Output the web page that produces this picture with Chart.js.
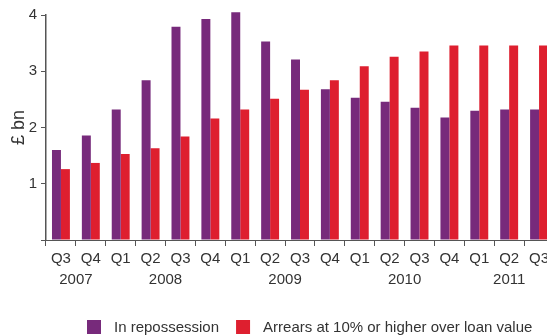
<!DOCTYPE html>
<html>
<head>
<meta charset="utf-8">
<script src="https://cdn.jsdelivr.net/npm/chart.js@4"></script>
<style>
  html, body { margin: 0; padding: 0; background: #ffffff; overflow: hidden; }
  #wrap { width: 556px; height: 336px; position: relative; }
</style>
</head>
<body>
<div id="wrap"><canvas id="c"></canvas></div>
<script>
// ---- data ----
const quarters = ['Q3','Q4','Q1','Q2','Q3','Q4','Q1','Q2','Q3','Q4','Q1','Q2','Q3','Q4','Q1','Q2','Q3'];
const years    = ['2007','2007','2008','2008','2008','2008','2009','2009','2009','2009','2010','2010','2010','2010','2011','2011','2011'];
const repossession = [1.60, 1.86, 2.32, 2.84, 3.79, 3.93, 4.05, 3.53, 3.21, 2.68, 2.53, 2.46, 2.35, 2.18, 2.30, 2.32, 2.32];
const arrears      = [1.26, 1.37, 1.53, 1.63, 1.84, 2.16, 2.32, 2.51, 2.67, 2.84, 3.09, 3.26, 3.35, 3.46, 3.46, 3.46, 3.46];
const seriesNames  = ['In repossession', 'Arrears at 10% or higher over loan value'];
const yTicks = [0, 1, 2, 3, 4];

const FONT = "'Liberation Sans', Arial, sans-serif";
const TXT = '#333333';
const AXIS = '#555555';
const PURPLE = '#772a7b';
const RED = '#de1f2f';

const yearLabels = {
  id: 'yearLabels',
  afterDraw(chart) {
    const ctx = chart.ctx, xs = chart.scales.x;
    const uniq = [...new Set(years)];
    ctx.save();
    ctx.font = '15px ' + FONT;
    ctx.fillStyle = TXT;
    ctx.textAlign = 'center';
    ctx.textBaseline = 'middle';
    uniq.forEach(y => {
      const first = years.indexOf(y), last = years.lastIndexOf(y);
      const x = (xs.getPixelForValue(first) + xs.getPixelForValue(last)) / 2;
      ctx.fillText(y, x, chart.chartArea.bottom + 40);
    });
    ctx.restore();
  }
};

const customLegend = {
  id: 'customLegend',
  afterDraw(chart) {
    const ctx = chart.ctx;
    ctx.save();
    ctx.font = '15px ' + FONT;
    ctx.textBaseline = 'middle';
    let x = 87;
    const yc = 327;
    chart.data.datasets.forEach(ds => {
      ctx.fillStyle = ds.backgroundColor;
      ctx.fillRect(x, yc - 7, 14, 14);
      x += 14 + 13;
      ctx.fillStyle = TXT;
      ctx.textAlign = 'left';
      ctx.fillText(ds.label, x, yc + 1);
      x += ctx.measureText(ds.label).width + 17;
    });
    ctx.restore();
  }
};

new Chart(document.getElementById('c'), {
  type: 'bar',
  data: {
    labels: quarters,
    datasets: [
      { label: seriesNames[0], data: repossession, backgroundColor: PURPLE, clip: false },
      { label: seriesNames[1], data: arrears, backgroundColor: RED, clip: false }
    ]
  },
  options: {
    responsive: true,
    maintainAspectRatio: false,
    animation: false,
    layout: { padding: { top: 15, right: 2, bottom: 64, left: 0 } },
    datasets: { bar: { barPercentage: 1, categoryPercentage: 0.6 } },
    plugins: { legend: { display: false }, tooltip: { enabled: false } },
    scales: {
      x: {
        grid: { display: true, drawOnChartArea: false, drawTicks: true, tickLength: 6, offset: true, color: AXIS, lineWidth: 1 },
        border: { display: true, color: AXIS, width: 1 },
        ticks: { color: TXT, font: { family: FONT, size: 15 }, padding: 4, maxRotation: 0, autoSkip: false }
      },
      y: {
        min: 0, max: 4,
        afterBuildTicks(scale) { scale.ticks = yTicks.map(v => ({ value: v })); },
        afterFit(scale) { scale.width = 46; },
        grid: { display: true, drawOnChartArea: false, drawTicks: true, tickLength: 5, color: AXIS, lineWidth: 1 },
        border: { display: true, color: AXIS, width: 1.5 },
        ticks: { color: TXT, font: { family: FONT, size: 15 }, padding: 4, callback: v => v === 0 ? '' : v },
        title: { display: true, text: '£ bn', color: TXT, font: { family: FONT, size: 18 }, padding: { top: 8, bottom: 0 } }
      }
    }
  },
  plugins: [yearLabels, customLegend]
});
</script>
</body>
</html>
